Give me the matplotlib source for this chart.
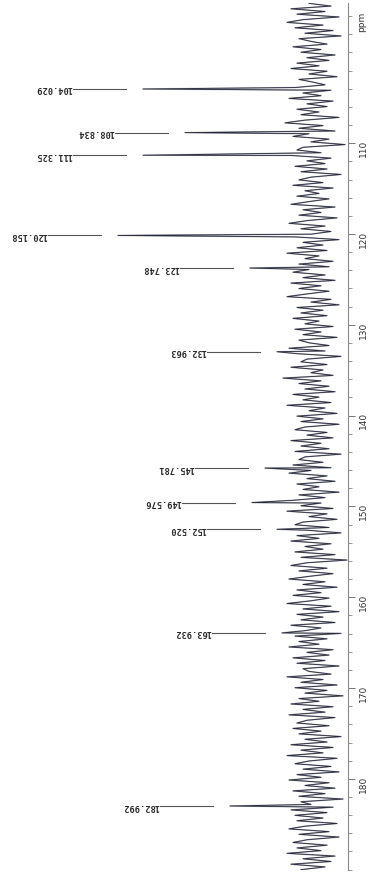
import numpy as np
import matplotlib.pyplot as plt
from matplotlib.ticker import MultipleLocator

# 13C peaks (ppm), picked peak heights (arb. units) and printed labels
peak_ppm = [104.029, 108.834, 111.325, 120.158, 123.748, 132.963,
            145.781, 149.576, 152.520, 163.932, 182.992]
peak_height = [86, 65, 86, 98.5, 32.5, 19, 25, 31.5, 19, 16.5, 42.5]
peak_labels = ['104.029', '108.834', '111.325', '120.158', '123.748', '132.963',
               '145.781', '149.576', '152.520', '163.932', '182.992']

# baseline noise, top (94.6 ppm) to bottom (190 ppm)
noise = [3, -8, 12, -5, 9, -12, 6, 14, -4, 10, -9, 5, -13, 8, 2, -6, 11, -3, 7, -10,
         4, -7, 9, -2, 12, -6, 3, -11, 8, 1, -5, 10, -8, 6, -3, 13, -9, 4, -6, 9,
         -2, 7, -12, 5, 15, -4, 8, -10, 3, 11, -7, 2, -15, 6, 9, -3, 12, -8, 4, -5,
         10, -6, 7, -13, 2, 8, -4, 11, -9, 5, -2, 9, -7, 3, 12, -10, 6, -3, 8, -11,
         4, 13, -5, 7, -8, 2, 10, -12, 6, -4, 9, -6, 14, -2, 5, -9, 8, -7, 3, 11,
         -5, 6, -10, 12, -3, 8, -7, 4, 14, -8, 2, -12, 9, -4, 7, -6, 11, -2, 5, -9,
         10, -3, 6, -11, 8, 3, -7, 13, -5, 9, -13, 4, 7, -6, 12, -4, 2, -9, 16, -3,
         8, -7, 5, -10, 11, -2, 6, -8, 14, -5, 3, -11, 9, -4, 7, -12, 5, 10, -6, 4,
         -9, 12, -3, 7, -7, 10, -13, 5, 8, -4, 11, -8, 2, 13, -6, 4, -10, 9, -2, 6,
         -12, 8, -5, 11, -3, 7, -9, 14, -6, 3, -11, 6, 10, -7, 4, -13, 9, -2, 12, -8,
         5, -4, 10, -10, 7, -16, 4, 12, -6, 8, -9, 3, 13, -5, 6, -11, 9, -3, 11, -7,
         2, 14, -8, 6, -12, 9, -4, 7, -10, 12, -3, 5, -13, 10, -6, 8, -2, 13, -9, 4,
         -7, 11, -5, 9, -12, 6, 3, -8, 14, -4, 7, -11, 10, -6, 5, -14, 8, -2, 12, -9,
         6, -5, 13, -10, 4, 9, -7, 11, -3, 8, -13, 5, -6, 12, -9, 7, -4, 14, -11, 3,
         10, -8, 6, -12, 9, -3, 13, -7, 5, -10, 11, -5, 8, -14, 7, 2, -9, 12, -6, 10,
         -4, 9, -11, 5, 13, -7, 8, -12, 4, 11, -6, 9, -3, 14, -10, 6, -8, 12, -5, 7]

major_ticks = [110, 120, 130, 140, 150, 160, 170, 180]

grid = np.linspace(94.6, 190.0, len(noise))
ppm = np.concatenate([grid, peak_ppm])
inten = np.concatenate([noise, peak_height])
order = np.argsort(ppm)

fig = plt.figure(figsize=(3.69, 8.75), dpi=100)
ax = fig.add_axes([0, 5 / 875, 348 / 369, 867 / 875])

# scanned print: faint coloured fringe under a thin dark trace
ax.plot(inten[order], ppm[order], color='#7a6a8e', lw=1.1, alpha=0.35)
ax.plot(inten[order], ppm[order], color='#5d7a62', lw=0.9, alpha=0.3)
ax.plot(inten[order], ppm[order], color='#2a2a3e', lw=0.6)

# leader lines + upside-down peak labels (page is rotated)
gap, leader = 8.5, 26.5
for p, h, lab in zip(peak_ppm, peak_height, peak_labels):
    ax.plot([h + gap, h + gap + leader], [p, p], color='#555555', lw=0.8)
    ax.text(h + gap + leader + 0.5, p, lab, rotation=180, ha='right', va='center',
            fontsize=6.2, family='DejaVu Sans Mono', fontweight='bold', color='#2a2a2a')

ax.set_ylim(190.04, 94.56)
ax.set_xlim(157.5, -16.5)

for s in ['left', 'top', 'bottom']:
    ax.spines[s].set_visible(False)
ax.spines['right'].set_color('#888888')
ax.spines['right'].set_linewidth(0.8)
ax.set_xticks([])
ax.yaxis.tick_right()
ax.set_yticks(major_ticks)
ax.yaxis.set_minor_locator(MultipleLocator(2))
ax.tick_params(axis='y', which='major', length=5, width=0.7, pad=3, labelsize=6.5,
               labelrotation=90, colors='#777777', labelcolor='#333333')
ax.tick_params(axis='y', which='minor', length=3, width=0.6, colors='#888888')

fig.text(362 / 369, 1 - 22 / 875, 'ppm', rotation=90, ha='center', va='center',
         fontsize=6.5, color='#333333')

fig.savefig('out.png', dpi=100)
